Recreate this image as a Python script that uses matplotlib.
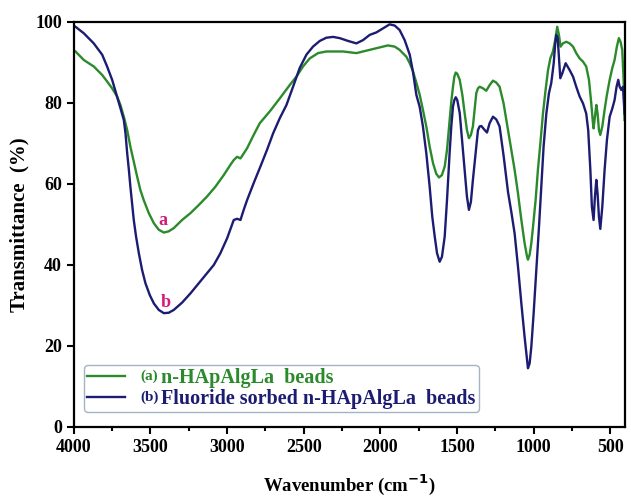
import numpy as np
import matplotlib.pyplot as plt
from matplotlib.ticker import MultipleLocator

# FTIR spectra, values
wn_a = [3989, 3935, 3870, 3815, 3783, 3750, 3718, 3696, 3674, 3652, 3631, 3609,
        3587, 3566, 3544, 3511, 3478, 3446, 3413, 3381, 3348, 3294, 3239, 3185,
        3131, 3077, 3022, 2979, 2957, 2935, 2913, 2892, 2870, 2827, 2787, 2722,
        2657, 2592, 2548, 2505, 2461, 2407, 2353, 2244, 2157, 2070, 2005, 1951,
        1907, 1875, 1831, 1809, 1788, 1766, 1744, 1723, 1701, 1679, 1657, 1636,
        1618, 1599, 1581, 1566, 1549, 1538, 1527, 1518, 1509, 1499, 1483, 1466,
        1451, 1436, 1423, 1410, 1397, 1386, 1375, 1364, 1353, 1331, 1310, 1288,
        1266, 1244, 1223, 1197, 1168, 1146, 1125, 1103, 1081, 1060, 1044, 1038,
        1027, 1016, 1005, 988, 973, 957, 940, 923, 907, 892, 875, 860, 847, 836,
        825, 810, 788, 766, 744, 723, 701, 679, 658, 640, 625, 614, 610, 601,
        592, 584, 575, 566, 553, 538, 523, 505, 488, 473, 458, 445, 434, 423,
        414, 408]
t_a = [92.7, 90.6, 89.0, 86.9, 85.3, 83.6, 81.6, 79.5, 76.6, 73.3, 69.2, 65.5,
       61.8, 58.5, 56.0, 52.8, 50.3, 48.7, 48.0, 48.3, 49.1, 51.1, 52.8, 54.8,
       56.9, 59.3, 62.2, 64.7, 65.9, 66.7, 66.3, 67.5, 68.8, 72.1, 75.0, 77.9,
       81.1, 84.4, 86.5, 89.0, 91.0, 92.3, 92.7, 92.7, 92.3, 93.1, 93.7, 94.2,
       93.9, 93.1, 91.4, 89.8, 87.8, 85.0, 82.0, 78.3, 74.2, 69.2, 65.1, 62.5,
       61.6, 62.2, 64.3, 68.4, 75.8, 80.3, 84.0, 86.5, 87.5, 87.2, 85.7, 82.0,
       77.5, 73.3, 71.3, 72.1, 74.2, 78.3, 82.4, 83.6, 84.0, 83.6, 83.0, 84.4,
       85.5, 85.0, 84.0, 79.9, 73.3, 68.4, 63.5, 57.7, 51.1, 45.4, 42.1, 41.3,
       42.5, 45.4, 49.4, 56.0, 63.5, 70.0, 77.4, 83.2, 88.1, 91.0, 92.7, 95.6,
       98.8, 96.8, 93.9, 94.7, 95.1, 94.7, 93.9, 92.3, 91.0, 90.2, 89.0, 85.7,
       79.9, 75.0, 73.7, 76.6, 79.5, 77.5, 73.3, 72.1, 74.2, 78.3, 82.0, 85.7,
       88.6, 90.6, 93.9, 96.0, 95.1, 93.1, 85.7, 75.8]

wn_b = [3989, 3935, 3870, 3815, 3783, 3750, 3718, 3696, 3674, 3663, 3652, 3641,
        3631, 3620, 3609, 3594, 3576, 3555, 3533, 3505, 3478, 3446, 3413, 3381,
        3348, 3294, 3239, 3185, 3131, 3087, 3044, 3000, 2957, 2935, 2913, 2892,
        2870, 2827, 2783, 2740, 2700, 2657, 2613, 2570, 2527, 2483, 2440, 2396,
        2353, 2309, 2266, 2211, 2157, 2114, 2070, 2027, 1983, 1940, 1907, 1875,
        1842, 1809, 1788, 1766, 1744, 1723, 1701, 1679, 1662, 1646, 1631, 1614,
        1599, 1581, 1566, 1549, 1538, 1527, 1518, 1509, 1499, 1483, 1466, 1451,
        1436, 1423, 1410, 1397, 1379, 1364, 1353, 1342, 1320, 1305, 1288, 1266,
        1244, 1223, 1197, 1168, 1146, 1125, 1103, 1081, 1060, 1044, 1038, 1027,
        1016, 1001, 983, 966, 951, 936, 918, 901, 886, 870, 860, 853, 844, 836,
        827, 814, 792, 766, 744, 723, 701, 679, 658, 645, 631, 621, 610, 601,
        592, 584, 575, 566, 553, 538, 523, 505, 488, 473, 460, 449, 440, 429,
        418, 408]
t_b = [98.8, 97.2, 94.7, 91.9, 89.0, 85.7, 81.6, 78.7, 75.8, 72.5, 67.6, 63.5,
       59.3, 55.2, 51.1, 47.0, 42.9, 38.8, 35.5, 32.6, 30.5, 28.9, 28.1, 28.2,
       28.9, 30.7, 33.0, 35.5, 38.0, 40.0, 42.9, 46.6, 51.1, 51.4, 51.1, 53.6,
       56.0, 60.2, 64.3, 68.4, 72.5, 76.2, 79.5, 84.0, 88.6, 91.9, 93.9, 95.3,
       96.1, 96.3, 96.0, 95.3, 94.7, 95.5, 96.8, 97.4, 98.4, 99.4, 99.1, 98.0,
       95.5, 91.9, 87.7, 82.0, 79.0, 74.2, 67.6, 59.3, 51.9, 47.0, 42.9, 40.8,
       42.0, 47.0, 56.0, 67.6, 74.2, 79.1, 80.7, 81.4, 80.7, 77.5, 70.0, 63.5,
       56.9, 53.6, 55.6, 61.0, 67.6, 73.3, 74.2, 74.3, 73.3, 72.7, 75.0, 76.6,
       75.9, 74.2, 67.0, 58.0, 53.0, 47.8, 39.6, 30.5, 22.3, 16.5, 14.5, 15.7,
       19.8, 28.0, 38.8, 49.4, 59.3, 69.2, 77.4, 82.4, 84.9, 89.8, 94.7, 96.8,
       96.0, 91.4, 86.1, 87.3, 89.8, 88.1, 86.5, 84.0, 81.6, 79.9, 77.4, 73.3,
       63.5, 54.4, 51.1, 56.9, 61.0, 57.7, 51.9, 48.9, 54.4, 63.5, 70.8, 76.6,
       78.6, 80.7, 84.0, 85.7, 84.0, 83.2, 84.0, 77.4]

prefixes = ['(a)', '(b)']
labels = ['n-HApAlgLa  beads', 'Fluoride sorbed n-HApAlgLa  beads']
green = '#2b8a2b'
navy = '#1c1c72'

plt.rcParams['font.family'] = ['Liberation Serif', 'DejaVu Serif']
plt.rcParams['font.weight'] = 'bold'

fig = plt.figure(figsize=(6.31, 4.98), dpi=100)
ax = fig.add_axes([0.117, 0.1426, 0.873, 0.8134])

ax.plot(wn_a, t_a, color=green, lw=1.7, label=labels[0])
ax.plot(wn_b, t_b, color=navy, lw=1.7, label=labels[1])

ax.text(3420, 49.8, 'a', color='#d41a7c', fontsize=13, fontweight='bold', ha='center')
ax.text(3400, 29.6, 'b', color='#d41a7c', fontsize=13, fontweight='bold', ha='center')

ax.set_xlim(4000, 407)
ax.set_ylim(0, 100)
ax.xaxis.set_major_locator(MultipleLocator(500))
ax.xaxis.set_minor_locator(MultipleLocator(250))
ax.yaxis.set_major_locator(MultipleLocator(20))
ax.tick_params(which='both', direction='out', width=1.5, labelsize=13)
ax.tick_params(which='major', length=5)
ax.tick_params(which='minor', length=3)
for lab in ax.get_xticklabels() + ax.get_yticklabels():
    lab.set_fontweight('bold')
for s in ax.spines.values():
    s.set_linewidth(1.6)

ax.set_xlabel('Wavenumber (cm$^{\\mathbf{-1}}$)', fontsize=13.5, fontweight='bold', labelpad=12)
ax.set_ylabel('Transmittance  (%)', fontsize=15, fontweight='bold', labelpad=4)

leg = ax.legend(loc='lower left', bbox_to_anchor=(0.018, 0.037), borderaxespad=0,
                fontsize=14.5, frameon=True, fancybox=True, edgecolor='#8fa0b8',
                handlelength=1.9, handletextpad=1.8, borderpad=0.15, labelspacing=0.05)
leg.get_frame().set_linewidth(1.0)
for txt, c in zip(leg.get_texts(), [green, navy]):
    txt.set_color(c)

# small "(a)" / "(b)" prefixes in front of the legend labels
fig.canvas.draw()
W, H = fig.bbox.width, fig.bbox.height
for txt, p, c in zip(leg.get_texts(), prefixes, [green, navy]):
    bb = txt.get_window_extent()
    fig.text((bb.x0 - 3) / W, (bb.y0 + bb.y1) / 2 / H + 0.004, p, color=c,
             fontsize=11, fontweight='bold', ha='right', va='center')

fig.savefig('out.png', dpi=100)
